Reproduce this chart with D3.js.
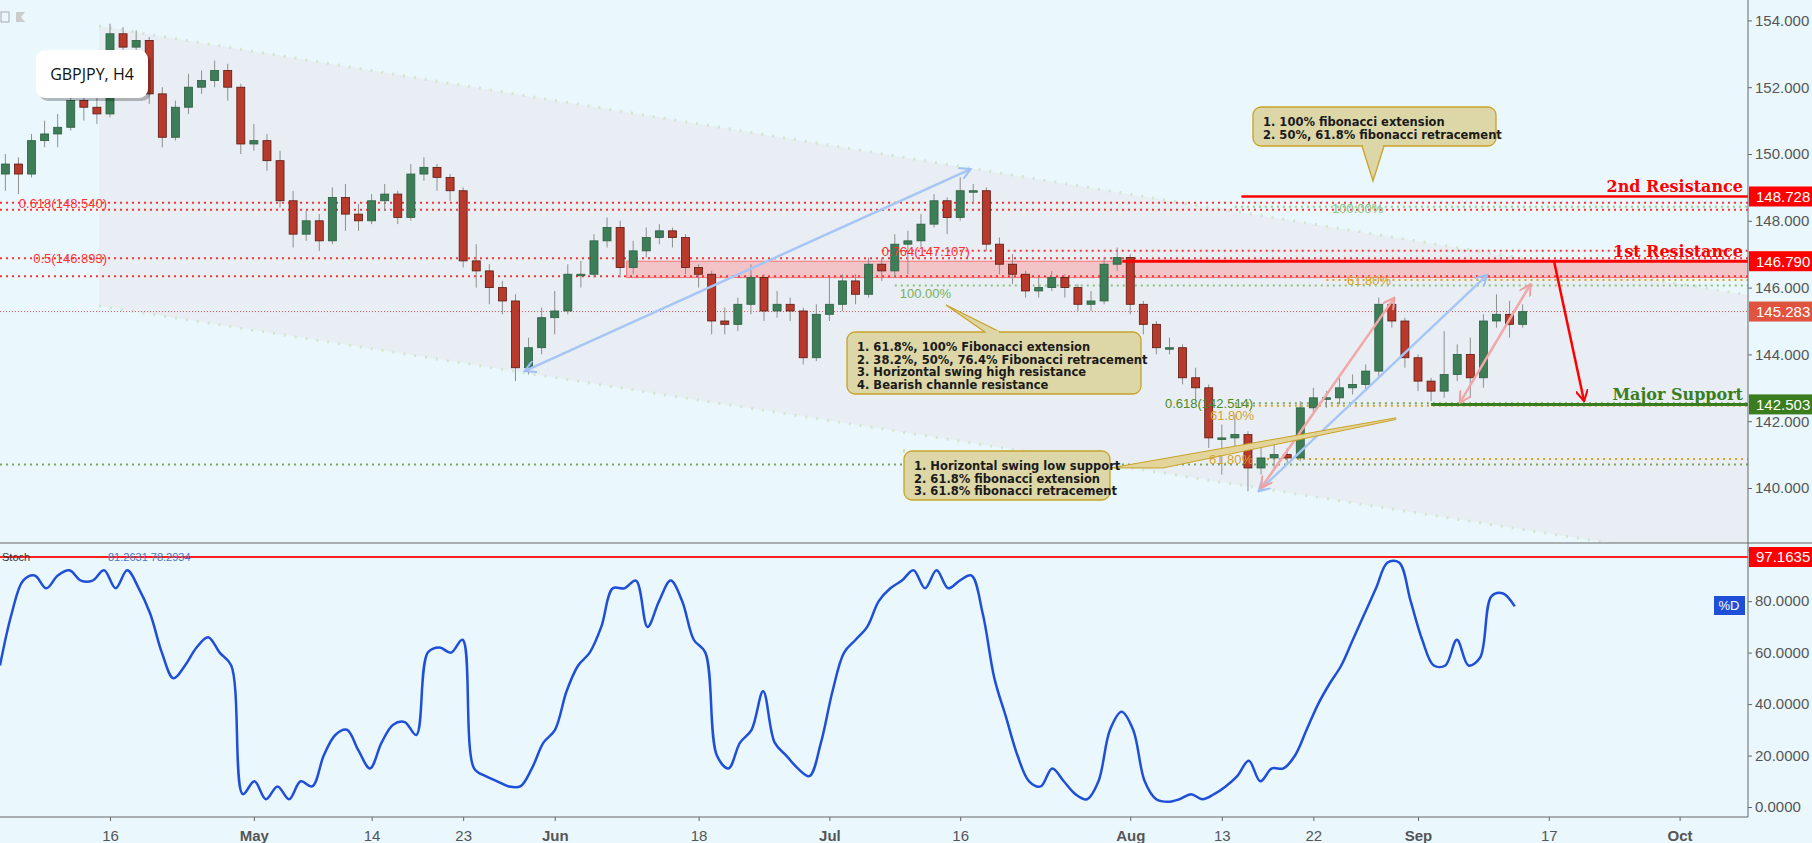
<!DOCTYPE html>
<html><head><meta charset="utf-8">
<script src="https://cdn.jsdelivr.net/npm/d3@7"></script>
<style>body{margin:0;background:#eaf8fe;overflow:hidden}svg{display:block}</style>
</head><body><svg id="c" width="1812" height="843"></svg>
<script>
// ---- data (trading-day index, 0 = Apr 16) ----
const firstDay = -8;
const firstOpen = 149.4;
const closes = [149.7,149.4,150.4,150.6,150.8,151.6,151.4,151.2,
153.6,153.2,153.4,151.8,150.5,151.4,152.0,152.2,152.5,152.0,150.3,150.4,149.8,148.6,147.6,148.0,147.4,148.7,148.2,148.0,148.6,148.8,148.1,149.4,149.6,149.3,148.9,146.8,146.5,146.0,145.6,143.6,144.2,145.1,145.3,146.4,146.4,147.4,147.8,146.6,147.1,147.5,147.7,147.5,146.6,146.4,145.0,144.9,145.5,146.3,145.3,145.5,145.3,143.9,145.2,145.5,146.2,145.8,146.7,146.5,147.3,147.4,147.9,148.6,148.1,148.9,148.9,147.3,146.7,146.4,145.9,146.0,146.3,146.0,145.5,145.6,146.7,146.9,145.5,144.9,144.2,144.2,143.3,143.0,141.5,141.5,141.6,140.6,140.9,141.0,140.9,142.4,142.7,142.7,143.0,143.1,143.5,145.5,145.0,143.9,143.2,142.9,143.4,144.0,143.3,145.0,145.2,144.9,145.28];
const highs = [150.0,149.9,150.6,151.0,151.2,151.9,151.8,151.7,
153.9,153.8,153.7,153.5,152.0,151.6,152.4,152.5,152.8,152.7,152.1,150.9,150.6,150.1,148.9,148.3,148.2,149.0,149.1,148.5,148.8,149.1,148.9,149.7,149.9,149.7,149.4,149.0,147.3,146.7,146.2,145.8,144.5,145.4,145.9,146.7,146.8,147.6,148.1,148.0,147.4,147.8,147.9,147.8,147.6,146.7,146.5,145.4,145.7,146.7,146.4,145.9,145.7,145.4,145.5,146.3,146.4,146.4,146.9,146.9,147.6,147.7,148.2,148.8,148.7,149.3,149.1,149.0,147.5,147.0,146.5,146.3,146.5,146.4,146.1,145.9,146.9,147.2,147.0,145.6,145.0,144.5,144.3,143.6,143.1,141.9,142.2,141.7,141.3,141.3,141.2,142.6,143.0,142.9,143.3,143.4,143.7,145.7,145.6,145.1,144.0,143.3,144.7,144.3,144.5,145.2,145.8,145.6,145.5];
const lows = [148.9,148.8,149.3,150.2,150.2,150.7,151.0,150.9,
151.1,152.9,153.0,151.5,150.2,150.4,151.2,151.8,152.0,151.6,150.0,150.1,149.5,148.4,147.2,147.4,147.1,147.3,147.7,147.7,147.9,148.3,147.9,148.0,149.2,148.9,148.6,146.6,146.0,145.5,145.2,143.2,143.4,144.0,144.6,145.2,146.0,146.3,147.2,146.3,146.4,146.9,147.3,147.2,146.4,146.0,144.6,144.6,144.7,145.2,145.0,145.1,145.0,143.7,143.8,145.0,145.3,145.5,145.7,146.2,146.3,146.4,147.2,147.8,147.6,148.0,148.5,147.1,146.4,146.1,145.7,145.7,145.9,145.7,145.3,145.3,145.5,146.5,145.2,144.6,144.0,144.0,143.1,142.6,141.2,140.4,141.2,139.9,140.4,140.6,140.7,140.8,142.2,142.4,142.5,142.8,142.9,143.3,144.8,143.6,142.9,142.6,142.7,143.2,142.7,143.0,144.8,144.5,144.8];
// stochastic %D, sampled every 0.884 trading days from day -8.41
const stochStart = -8.41, stochStep = 0.884;
const stochD = [55,75,88,90,85,90,92,88,88,92,85,92,85,75,60,50,55,62,66,60,55,5,10,3,8,3,10,8,20,28,30,22,15,25,32,33,28,60,62,60,65,15,12,10,8,8,15,25,30,45,55,60,70,85,85,88,70,80,88,80,65,60,20,15,25,30,45,25,20,15,12,25,45,60,65,70,80,85,88,92,85,92,85,88,90,75,50,35,20,10,8,15,10,5,3,10,30,37,30,10,3,2,3,5,3,5,8,12,18,10,15,15,20,30,40,48,55,65,75,85,95,95,80,65,55,55,65,55,58,82,83,78];
const priceTicks = [140,142,144,146,148,150,152,154];
const stochTicks = [0,20,40,60,80,100];
const timeTickDays = [0,11,20,27,34,45,55,65,78,85,92,100,110,120];
const timeTickLabels = ["16","May","14","23","Jun","18","Jul","16","Aug","13","22","Sep","17","Oct"];
const levels = {res2:148.728, res1:146.790, last:145.283, support:142.503, stochHi:97.1635};

// ---- scales ----
const W=1812, AX=1748, MAINB=543, STB=817;
const x = d3.scaleLinear().domain([0,120]).range([110,1679.6]);
const y = d3.scaleLinear().domain([140,154]).range([488,20.4]);
const ys = d3.scaleLinear().domain([0,100]).range([807,549.7]);
const svg = d3.select("#c");
const defs = svg.append("defs");
defs.append("clipPath").attr("id","cm").append("rect").attr("width",AX).attr("height",MAINB);
defs.append("clipPath").attr("id","cs").append("rect").attr("y",MAINB).attr("width",AX).attr("height",STB-MAINB);
function marker(id,col){defs.append("marker").attr("id",id).attr("viewBox","0 0 10 10").attr("refX",9).attr("refY",5)
 .attr("markerWidth",5).attr("markerHeight",5).attr("orient","auto-start-reverse")
 .append("path").attr("d","M0,0 L9,5 L0,10").attr("fill","none").attr("stroke",col).attr("stroke-width",1.6);}
marker("mb","#9ec0f5");marker("mp","#f0a0a0");marker("mr","#ff0000");
const font="'Liberation Sans',Arial,sans-serif";
const main = svg.append("g").attr("clip-path","url(#cm)");

// channel
const chTop=[[-0.84,153.83],[125.2,145.78]], chBot=[[-0.84,145.45],[125.2,137.7]];
main.append("path").attr("d",d3.line()([...chTop,...chBot.slice().reverse()].map(p=>[x(p[0]),y(p[1])]))+"Z").attr("fill","#e8eef4");
[chTop,chBot].forEach(c=>main.append("line").attr("x1",x(c[0][0])).attr("y1",y(c[0][1])).attr("x2",x(c[1][0])).attr("y2",y(c[1][1]))
 .attr("stroke","#cfe6cf").attr("stroke-width",3).attr("stroke-dasharray","2,9"));

// pink zone
main.append("rect").attr("x",x(39.5)).attr("y",y(146.79)).attr("width",AX-x(39.5)).attr("height",y(146.3)-y(146.79))
 .attr("fill","#f2c4c8").attr("stroke","#ff7070").attr("stroke-width",1);

function hline(p,d0,col,dash,w){main.append("line").attr("x1",d0==null?0:x(d0)).attr("x2",AX).attr("y1",y(p)).attr("y2",y(p))
 .attr("stroke",col).attr("stroke-width",w||2).attr("stroke-dasharray",dash||null);}
hline(148.54,null,"#ff3030","2,4");hline(148.33,null,"#ff3030","2,4");
hline(146.88,null,"#ff3030","2,4");hline(146.34,null,"#ff3030","2,4");
hline(147.107,59,"#ff3030","2,4");
hline(148.42,86,"#9cc98a","2,4");hline(146.06,60,"#8ec07c","2,4");hline(146.23,93,"#d4a52a","2,4");
hline(142.46,86,"#d4a52a","2,4");hline(142.54,86,"#7aa85a","2,4");
hline(140.87,88,"#d4a52a","2,4");hline(140.7,null,"#7aa85a","2,4");
hline(levels.last,null,"#e05050","1,2",1);

// candles
const candles = closes.map((c,i)=>({d:firstDay+i,o:i?closes[i-1]:firstOpen,c,h:highs[i],l:lows[i]}));
const cg = main.append("g");
cg.selectAll("line").data(candles).join("line").attr("x1",d=>x(d.d)).attr("x2",d=>x(d.d))
 .attr("y1",d=>y(d.h)).attr("y2",d=>y(d.l)).attr("stroke","#8f8f8f").attr("stroke-width",1);
cg.selectAll("rect").data(candles).join("rect").attr("x",d=>x(d.d)-4).attr("width",8)
 .attr("y",d=>y(Math.max(d.o,d.c))).attr("height",d=>Math.max(1.5,Math.abs(y(d.o)-y(d.c))))
 .attr("fill",d=>d.c>=d.o?"#3d7d57":"#b83a2c").attr("stroke",d=>d.c>=d.o?"#2c5e40":"#5a1a10").attr("stroke-width",0.8);

// resistance / support lines
hline(levels.res2,86.5,"#ff0000",null,2.5);
hline(levels.res1,77.4,"#ff0000",null,3);
hline(levels.support,101,"#3a7d1e",null,3);

// arrows
function arrow(a,b,col,m,w){main.append("line").attr("x1",x(a[0])).attr("y1",y(a[1])).attr("x2",x(b[0])).attr("y2",y(b[1]))
 .attr("stroke",col).attr("stroke-width",w||2.5).attr("marker-end","url(#"+m+")").attr("marker-start",m=="mr"?null:"url(#"+m+")");}
arrow([31.7,143.5],[65.8,149.55],"#a6c6f5","mb");
arrow([87.8,139.9],[105.3,146.38],"#a6c6f5","mb");
arrow([88,140.0],[98.2,145.7],"#f0a8a8","mp");
arrow([103.2,142.55],[108.6,146.1],"#f0a8a8","mp");
arrow([110.4,146.79],[112.7,142.6],"#ff0000","mr",2.5);

// golden band (callout pointer)
main.append("path").attr("d",d3.line()([[76.5,140.6],[98.3,142.1],[98.3,142.05],[80.5,140.6]].map(p=>[x(p[0]),y(p[1])]))+"Z")
 .attr("fill","#e2d49a").attr("stroke","#c9a227").attr("stroke-width",1);

// fib labels
const tl = main.append("g").attr("font-family",font).attr("font-size",13);
tl.append("text").attr("x",107).attr("y",y(148.54)+5).attr("text-anchor","end").attr("fill","#ff3030").text("0.618(148.540)");
tl.append("text").attr("x",107).attr("y",y(146.88)+5).attr("text-anchor","end").attr("fill","#ff3030").text("0.5(146.893)");
tl.append("text").attr("x",x(59)).attr("y",y(147.107)+5).attr("fill","#ff3030").text("0.764(147.107)");
tl.append("text").attr("x",x(60)+5).attr("y",y(146.06)+12).attr("fill","#77b060").text("100.00%");
tl.append("text").attr("x",1332).attr("y",y(148.42)+6).attr("fill","#8cc47a").text("100.00%");
tl.append("text").attr("x",1347).attr("y",y(146.23)+5).attr("fill","#d4a52a").text("61.80%");
tl.append("text").attr("x",1165).attr("y",y(142.5)+3).attr("fill","#4a8a2a").text("0.618(142.514)");
tl.append("text").attr("x",1210).attr("y",y(142.46)+14).attr("fill","#d4a52a").text("61.80%");
tl.append("text").attr("x",1209).attr("y",y(140.87)+5).attr("fill","#d4a52a").text("61.80%");

// callouts
function callout(x0,y0,w,h,lines,tip,base){
 const g=svg.append("g");
 g.append("rect").attr("x",x0).attr("y",y0).attr("width",w).attr("height",h).attr("rx",8).attr("fill","#ddd7a8").attr("stroke","#c9a227").attr("stroke-width",1.3);
 g.append("path").attr("d",`M${base[0]},${base[1]} L${tip[0]},${tip[1]} L${base[2]},${base[3]}`).attr("fill","#ddd7a8").attr("stroke","#c9a227").attr("stroke-width",1.3);
 g.append("line").attr("x1",base[0]+1).attr("y1",base[1]).attr("x2",base[2]-1).attr("y2",base[3]).attr("stroke","#ddd7a8").attr("stroke-width",3);
 lines.forEach((t,i)=>g.append("text").attr("x",x0+10).attr("y",y0+19+i*12.5).attr("font-family","'DejaVu Sans',Verdana,sans-serif")
  .attr("font-weight","bold").attr("font-size",11.5).attr("fill","#1a1a1a").text(t));
}
callout(1253,107,243,39,["1. 100% fibonacci extension","2. 50%, 61.8% fibonacci retracement"],[1373,181],[1362,146,1384,146]);
callout(847,332,294,62,["1. 61.8%, 100% Fibonacci extension","2. 38.2%, 50%, 76.4% Fibonacci retracement","3. Horizontal swing high resistance","4. Bearish channle resistance"],[946,305],[985,332,1000,332]);
callout(904,451,206,49,["1. Horizontal swing low support","2. 61.8% fibonacci extension","3. 61.8% fibonacci retracement"],[904,451],[904,451,904,451]);

// level labels
const ll=svg.append("g").attr("font-family","'DejaVu Serif',serif").attr("font-weight","bold").attr("font-size",16).attr("text-anchor","end");
ll.append("text").attr("x",1743).attr("y",y(levels.res2)-4).attr("fill","#ff0000").text("2nd Resistance");
ll.append("text").attr("x",1743).attr("y",y(levels.res1)-4).attr("fill","#ff0000").text("1st Resistance");
ll.append("text").attr("x",1743).attr("y",y(levels.support)-4).attr("fill","#3a7d1e").text("Major Support");

// title box
svg.append("rect").attr("x",39).attr("y",53).attr("width",112).attr("height",48).attr("rx",9).attr("fill","#000").attr("opacity",0.25);
svg.append("rect").attr("x",36).attr("y",50).attr("width",112).attr("height",48).attr("rx",9).attr("fill","#fff");
svg.append("text").attr("x",92).attr("y",80).attr("text-anchor","middle").attr("font-family","'Open Sans',sans-serif").attr("font-size",16).attr("fill","#111").text("GBPJPY, H4");
svg.append("rect").attr("x",1).attr("y",12).attr("width",8).attr("height",10).attr("fill","none").attr("stroke","#aaa");
svg.append("path").attr("d","M16,12 h9 l-4,5 l4,5 h-9z").attr("fill","#ccc");

// stochastic
const sg = svg.append("g").attr("clip-path","url(#cs)");
sg.append("line").attr("x1",0).attr("x2",AX).attr("y1",ys(levels.stochHi)).attr("y2",ys(levels.stochHi)).attr("stroke","#ff2020").attr("stroke-width",2);
sg.append("path").datum(stochD).attr("d",d3.line().x((v,i)=>x(stochStart+i*stochStep)).y(v=>ys(v)).curve(d3.curveCatmullRom))
 .attr("fill","none").attr("stroke","#1f4fd6").attr("stroke-width",2.5);
svg.append("text").attr("x",2).attr("y",561).attr("font-family",font).attr("font-size",11).attr("fill","#333").text("Stoch");
svg.append("text").attr("x",108).attr("y",561).attr("font-family",font).attr("font-size",11).attr("fill","#4f73c8").text("81.2631  78.2934");
svg.append("rect").attr("x",1714).attr("y",596).attr("width",31).attr("height",19).attr("fill","#1f4fd6");
svg.append("text").attr("x",1729).attr("y",610).attr("text-anchor","middle").attr("font-family",font).attr("font-size",13).attr("fill","#fff").text("%D");

// axes frames
svg.append("line").attr("x1",AX).attr("x2",AX).attr("y1",0).attr("y2",STB).attr("stroke","#666");
svg.append("line").attr("x1",0).attr("x2",AX).attr("y1",MAINB).attr("y2",MAINB).attr("stroke","#666");
svg.append("line").attr("x1",0).attr("x2",AX).attr("y1",STB).attr("y2",STB).attr("stroke","#666");

const ya = svg.append("g").attr("transform",`translate(${AX},0)`).call(d3.axisRight(y).tickValues(priceTicks).tickFormat(d3.format(".3f")).tickSize(4));
const ysa = svg.append("g").attr("transform",`translate(${AX},0)`).call(d3.axisRight(ys).tickValues(stochTicks).tickFormat(d3.format(".4f")).tickSize(4));
const xa = svg.append("g").attr("transform",`translate(0,${STB})`).call(d3.axisBottom(x).tickValues(timeTickDays).tickFormat((d,i)=>timeTickLabels[i]).tickSize(4));
[ya,ysa,xa].forEach(a=>{a.select(".domain").remove();a.selectAll("line").attr("stroke","#666");
 a.selectAll("text").attr("font-family",font).attr("font-size",15).attr("fill","#555");});
ysa.selectAll("text").filter(d=>d===100).attr("dy","0.95em");
xa.selectAll("text").attr("dy","1.1em").attr("font-weight",(d,i)=>/^[A-Z]/.test(timeTickLabels[i])?"bold":null);
svg.append("line").attr("x1",AX).attr("x2",W).attr("y1",MAINB).attr("y2",MAINB).attr("stroke","#666");

// price tags
function tag(val,yy,col,fmt){svg.append("rect").attr("x",AX+1).attr("y",yy-10).attr("width",64).attr("height",20).attr("fill",col);
 svg.append("text").attr("x",AX+8).attr("y",yy+5.5).attr("font-family",font).attr("font-size",15).attr("fill","#fff").text(fmt(val));}
tag(levels.res2,y(levels.res2),"#ff0000",d3.format(".3f"));
tag(levels.res1,y(levels.res1),"#ff0000",d3.format(".3f"));
tag(levels.last,y(levels.last),"#e0533f",d3.format(".3f"));
tag(levels.support,y(levels.support),"#3a7d1e",d3.format(".3f"));
tag(levels.stochHi,ys(levels.stochHi),"#ff0000",d3.format(".4f"));
</script></body></html>
